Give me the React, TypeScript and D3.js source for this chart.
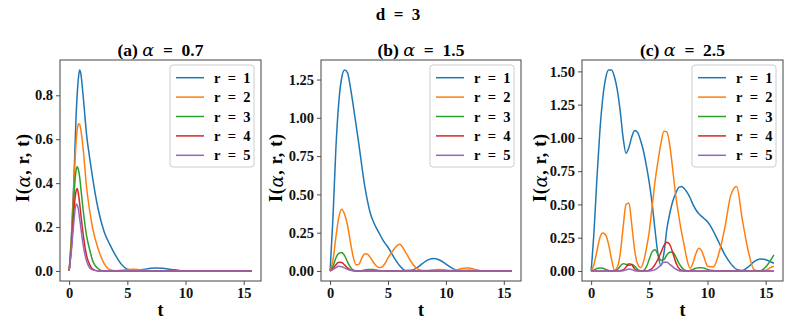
import React, { useEffect, useRef } from "react";
import * as d3 from "d3";

// line colours and labels (matplotlib tab10)
const colors = ["#1f77b4", "#ff7f0e", "#2ca02c", "#d62728", "#9467bd"];
const seriesLabels = ["r\u2002=\u20021", "r\u2002=\u20022", "r\u2002=\u20023", "r\u2002=\u20024", "r\u2002=\u20025"];
const panelTitles = ["(a)", "(b)", "(c)"];
const alphaValues = ["0.7", "1.5", "2.5"];
const xTicks = [0, 5, 10, 15];
const yTicksA = [0, 0.2, 0.4, 0.6, 0.8];
const yTicksB = [0, 0.25, 0.5, 0.75, 1.0, 1.25];
const yTicksC = [0, 0.25, 0.5, 0.75, 1.0, 1.25, 1.5];

// (a) alpha = 0.7
const tA = [0, 0.2, 0.4, 0.6, 0.7, 0.8, 0.9, 1, 1.2, 1.5, 1.75, 2, 2.5, 3, 3.5, 4, 4.5, 5, 5.5, 6, 6.5, 7, 7.5, 8, 8.5, 9, 9.5, 10, 11, 12, 13, 14, 15, 15.7];
const aR1 = [0, 0.16, 0.4, 0.71, 0.81, 0.88, 0.915, 0.9, 0.8, 0.62, 0.52, 0.43, 0.28, 0.18, 0.12, 0.07, 0.03, 0.008, 0.003, 0.004, 0.008, 0.012, 0.013, 0.012, 0.009, 0.005, 0.002, 0, 0, 0, 0, 0, 0, 0];
const aR2 = [0, 0.15, 0.38, 0.59, 0.645, 0.67, 0.668, 0.645, 0.56, 0.38, 0.28, 0.2, 0.1, 0.035, 0.006, 0.001, 0.003, 0.007, 0.008, 0.006, 0.003, 0.001, 0, 0, 0, 0, 0, 0, 0, 0, 0, 0, 0, 0];
const aR3 = [0, 0.13, 0.33, 0.46, 0.475, 0.46, 0.43, 0.38, 0.28, 0.16, 0.1, 0.05, 0.01, 0, 0, 0, 0, 0, 0, 0, 0, 0, 0, 0, 0, 0, 0, 0, 0, 0, 0, 0, 0, 0];
const aR4 = [0, 0.11, 0.27, 0.365, 0.375, 0.35, 0.31, 0.26, 0.17, 0.07, 0.03, 0.01, 0, 0, 0, 0, 0, 0, 0, 0, 0, 0, 0, 0, 0, 0, 0, 0, 0, 0, 0, 0, 0, 0];
const aR5 = [0, 0.095, 0.22, 0.305, 0.3, 0.28, 0.24, 0.2, 0.12, 0.045, 0.015, 0.005, 0, 0, 0, 0, 0, 0, 0, 0, 0, 0, 0, 0, 0, 0, 0, 0, 0, 0, 0, 0, 0, 0];

// (b) alpha = 1.5
const tB = [0, 0.25, 0.5, 0.75, 1, 1.25, 1.5, 1.75, 2, 2.25, 2.5, 2.75, 3, 3.25, 3.5, 3.75, 4, 4.25, 4.5, 4.75, 5, 5.5, 6, 6.5, 7, 7.5, 8, 8.5, 9, 9.5, 10, 10.5, 11, 11.5, 12, 12.5, 13, 14, 15, 15.7];
const bR1 = [0, 0.35, 0.8, 1.1, 1.26, 1.312, 1.295, 1.2, 1.08, 0.95, 0.82, 0.68, 0.55, 0.45, 0.37, 0.32, 0.28, 0.245, 0.21, 0.18, 0.155, 0.09, 0.035, 0.003, 0.004, 0.02, 0.05, 0.074, 0.081, 0.07, 0.045, 0.02, 0.005, 0.003, 0.004, 0.002, 0, 0, 0, 0];
const bR2 = [0, 0.07, 0.22, 0.35, 0.403, 0.37, 0.3, 0.19, 0.09, 0.04, 0.045, 0.085, 0.113, 0.108, 0.085, 0.055, 0.032, 0.022, 0.027, 0.05, 0.085, 0.14, 0.175, 0.125, 0.06, 0.015, 0.003, 0.003, 0.008, 0.01, 0.006, 0.003, 0.008, 0.018, 0.02, 0.01, 0.002, 0, 0.002, 0.001];
const bR3 = [0, 0.03, 0.085, 0.115, 0.12, 0.1, 0.06, 0.025, 0.006, 0.001, 0, 0.002, 0.006, 0.009, 0.01, 0.009, 0.006, 0.003, 0.001, 0, 0, 0, 0, 0, 0, 0, 0, 0, 0, 0, 0, 0, 0, 0, 0, 0, 0, 0, 0, 0];
const bR4 = [0, 0.015, 0.04, 0.057, 0.055, 0.04, 0.02, 0.007, 0.002, 0, 0, 0, 0, 0, 0, 0, 0, 0, 0, 0, 0, 0, 0, 0, 0, 0, 0, 0, 0, 0, 0, 0, 0, 0, 0, 0, 0, 0, 0, 0];
const bR5 = [0, 0.01, 0.022, 0.03, 0.028, 0.02, 0.01, 0.004, 0.001, 0, 0, 0, 0, 0, 0, 0, 0, 0, 0, 0, 0, 0, 0, 0, 0, 0, 0, 0, 0, 0, 0, 0, 0, 0, 0, 0, 0, 0, 0, 0];

// (c) alpha = 2.5
const tC = [0, 0.25, 0.5, 0.75, 1, 1.25, 1.5, 1.75, 2, 2.25, 2.5, 2.75, 3, 3.25, 3.5, 3.75, 4, 4.25, 4.5, 4.75, 5, 5.25, 5.5, 5.75, 6, 6.25, 6.5, 6.75, 7, 7.25, 7.5, 7.75, 8, 8.25, 8.5, 8.75, 9, 9.25, 9.5, 9.75, 10, 10.5, 11, 11.5, 12, 12.5, 13, 13.5, 14, 14.5, 15, 15.5, 15.7];
const cR1 = [0, 0.3, 0.7, 1.05, 1.3, 1.45, 1.51, 1.51, 1.46, 1.36, 1.2, 1.0, 0.885, 0.93, 1.01, 1.055, 1.04, 0.98, 0.9, 0.79, 0.66, 0.5, 0.3, 0.12, 0.04, 0.13, 0.31, 0.43, 0.52, 0.58, 0.625, 0.635, 0.62, 0.59, 0.55, 0.5, 0.46, 0.43, 0.41, 0.39, 0.37, 0.3, 0.21, 0.12, 0.055, 0.012, 0.004, 0.03, 0.07, 0.09, 0.085, 0.065, 0.058];
const cR2 = [0, 0.05, 0.15, 0.25, 0.285, 0.27, 0.2, 0.09, 0.005, 0.03, 0.13, 0.33, 0.5, 0.51, 0.34, 0.15, 0.05, 0.025, 0.07, 0.17, 0.3, 0.49, 0.68, 0.83, 0.96, 1.05, 1.045, 0.95, 0.77, 0.58, 0.43, 0.3, 0.19, 0.08, 0.02, 0.06, 0.13, 0.17, 0.15, 0.09, 0.035, 0.03, 0.14, 0.33, 0.57, 0.635, 0.38, 0.15, 0.01, 0, 0.005, 0.03, 0.036];
const cR3 = [0, 0.008, 0.018, 0.022, 0.02, 0.012, 0.004, 0.001, 0.002, 0.01, 0.035, 0.055, 0.05, 0.042, 0.05, 0.035, 0.012, 0.002, 0.004, 0.03, 0.09, 0.145, 0.16, 0.12, 0.08, 0.085, 0.12, 0.14, 0.143, 0.11, 0.065, 0.03, 0.008, 0.002, 0.004, 0.012, 0.02, 0.025, 0.025, 0.02, 0.012, 0.003, 0, 0, 0, 0, 0.001, 0.002, 0.001, 0, 0.03, 0.09, 0.12];
const cR4 = [0, 0, 0, 0, 0, 0, 0, 0, 0, 0, 0.002, 0.008, 0.03, 0.055, 0.045, 0.015, 0.002, 0, 0, 0, 0.005, 0.02, 0.05, 0.09, 0.14, 0.19, 0.215, 0.2, 0.14, 0.07, 0.025, 0.005, 0, 0, 0, 0, 0, 0, 0, 0, 0, 0, 0, 0, 0, 0, 0, 0, 0, 0, 0, 0, 0];
const cR5 = [0, 0, 0, 0, 0, 0, 0, 0, 0, 0, 0, 0.002, 0.008, 0.015, 0.01, 0.002, 0, 0, 0, 0, 0, 0.003, 0.01, 0.025, 0.045, 0.065, 0.065, 0.05, 0.032, 0.015, 0.004, 0, 0, 0, 0, 0, 0, 0, 0, 0, 0, 0, 0, 0, 0, 0, 0, 0, 0, 0, 0, 0, 0];

const panels = [
    { t: tA, series: [aR1, aR2, aR3, aR4, aR5], yTicks: yTicksA, fmt: ".1f" },
    { t: tB, series: [bR1, bR2, bR3, bR4, bR5], yTicks: yTicksB, fmt: ".2f" },
    { t: tC, series: [cR1, cR2, cR3, cR4, cR5], yTicks: yTicksC, fmt: ".2f" },
];

// layout
const W = 797;
const H = 332;
const TOP = 60;
const BOTTOM = 281;
const frames = [[60, 261], [321, 521], [582, 783]];
const yLabelX = [23, 275.5, 540];
const FONT = "'Liberation Serif', 'DejaVu Serif', serif";
const MATH = "'DejaVu Serif', serif";

function App() {
    const svgRef = useRef(null);

    useEffect(() => {
        const svg = d3.select(svgRef.current);
        svg.selectAll("*").remove();
        svg.append("rect").attr("width", W).attr("height", H).attr("fill", "#fff");

        svg.append("text")
            .attr("x", 398)
            .attr("y", 14)
            .attr("text-anchor", "middle")
            .attr("dominant-baseline", "central")
            .attr("font-family", FONT)
            .attr("font-weight", "bold")
            .attr("font-size", 17)
            .text("d\u2002=\u20023");

        panels.forEach((p, i) => {
            const [left, right] = frames[i];
            const [t0, t1] = d3.extent(p.t);
            const tPad = 0.05 * (t1 - t0);
            const x = d3.scaleLinear().domain([t0 - tPad, t1 + tPad]).range([left, right]);
            const all = p.series.flat();
            const vMin = d3.min(all);
            const vMax = d3.max(all);
            const vPad = 0.05 * (vMax - vMin);
            const y = d3.scaleLinear().domain([vMin - vPad, vMax + vPad]).range([BOTTOM, TOP]);

            const g = svg.append("g");

            const line = d3
                .line()
                .x((d) => x(d[0]))
                .y((d) => y(d[1]))
                .curve(d3.curveMonotoneX);

            p.series.forEach((vals, k) => {
                g.append("path")
                    .datum(vals.map((v, j) => [p.t[j], v]))
                    .attr("fill", "none")
                    .attr("stroke", colors[k])
                    .attr("stroke-width", 1.5)
                    .attr("stroke-linejoin", "round")
                    .attr("d", line);
            });

            // axes
            const xAxis = d3.axisBottom(x).tickValues(xTicks).tickSize(4).tickPadding(3).tickFormat(d3.format("d"));
            const gx = g.append("g").attr("transform", `translate(0,${BOTTOM})`).call(xAxis);
            const yAxis = d3.axisLeft(y).tickValues(p.yTicks).tickSize(4).tickPadding(3).tickFormat(d3.format(p.fmt));
            const gy = g.append("g").attr("transform", `translate(${left},0)`).call(yAxis);
            [gx, gy].forEach((a) => {
                a.select(".domain").remove();
                a.selectAll("line").attr("stroke", "#222").attr("stroke-width", 0.8);
                a.selectAll("text")
                    .attr("font-family", FONT)
                    .attr("font-weight", "bold")
                    .attr("font-size", 14.5)
                    .attr("fill", "#111");
            });

            g.append("rect")
                .attr("x", left)
                .attr("y", TOP)
                .attr("width", right - left)
                .attr("height", BOTTOM - TOP)
                .attr("fill", "none")
                .attr("stroke", "#444")
                .attr("stroke-width", 1);

            // title
            const title = g.append("text")
                .attr("x", (left + right) / 2)
                .attr("y", 50)
                .attr("text-anchor", "middle")
                .attr("dominant-baseline", "central")
                .attr("font-family", FONT)
                .attr("font-weight", "bold")
                .attr("font-size", 17.5)
                .style("white-space", "pre");
            title.append("tspan").text(panelTitles[i] + " ");
            title.append("tspan").attr("font-family", MATH).attr("font-style", "italic").attr("font-weight", "normal").text("α");
            title.append("tspan").text("\u2002=\u2002" + alphaValues[i]);

            // axis labels
            g.append("text")
                .attr("x", (left + right) / 2)
                .attr("y", 310)
                .attr("text-anchor", "middle")
                .attr("dominant-baseline", "central")
                .attr("font-family", FONT)
                .attr("font-weight", "bold")
                .attr("font-size", 18)
                .text("t");

            const yl = g.append("text")
                .attr("transform", `translate(${yLabelX[i]},168) rotate(-90)`)
                .attr("text-anchor", "middle")
                .attr("dominant-baseline", "central")
                .attr("font-family", FONT)
                .attr("font-weight", "bold")
                .attr("font-size", 18)
                .attr("textLength", 68)
                .attr("lengthAdjust", "spacing");
            yl.append("tspan").text("I(");
            yl.append("tspan").attr("font-family", MATH).attr("font-style", "italic").attr("font-weight", "normal").text("α");
            yl.append("tspan").text(", r, t)");

            // legend
            const lx = right - 7 - 84;
            const lg = g.append("g");
            lg.append("rect")
                .attr("x", lx)
                .attr("y", 65)
                .attr("width", 84)
                .attr("height", 102)
                .attr("rx", 3)
                .attr("fill", "#fff")
                .attr("fill-opacity", 0.8)
                .attr("stroke", "#cccccc")
                .attr("stroke-width", 1);
            seriesLabels.forEach((lab, k) => {
                const ly = 77.7 + k * 19.4;
                lg.append("line")
                    .attr("x1", lx + 6)
                    .attr("x2", lx + 34)
                    .attr("y1", ly)
                    .attr("y2", ly)
                    .attr("stroke", colors[k])
                    .attr("stroke-width", 1.5);
                lg.append("text")
                    .attr("x", lx + 44)
                    .attr("y", ly)
                    .attr("dominant-baseline", "central")
                    .attr("font-family", FONT)
                    .attr("font-weight", "bold")
                    .attr("font-size", 14.5)
                    .text(lab);
            });
        });
    }, []);

    return (
        <svg
            ref={svgRef}
            width={W}
            height={H}
            style={{ position: "absolute", left: 0, top: 0, display: "block" }}
        />
    );
}

export default App;
